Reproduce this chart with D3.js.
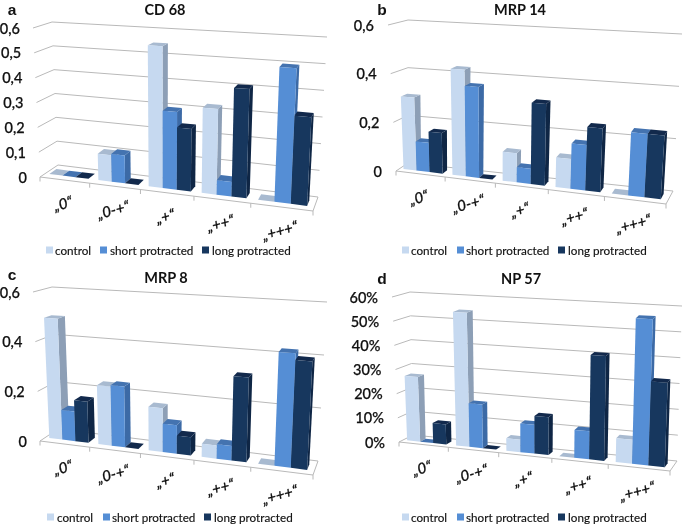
<!DOCTYPE html>
<html><head><meta charset="utf-8">
<script src="https://cdn.jsdelivr.net/npm/d3@7"></script>
<style>html,body{margin:0;padding:0;background:#fff}svg{display:block;filter:blur(0.35px)}
text{font-family:Lato,"Open Sans",sans-serif;fill:#111}</style></head><body>
<svg id="c" width="685" height="528"></svg>
<script>
const categories = ["\u201E0\u201C","\u201E0-+\u201C","\u201E+\u201C","\u201E++\u201C","\u201E+++\u201C"];
const seriesNames = ["control","short protracted","long protracted"];
const cd68Control = [0,0.105,0.55,0.325,0];
const cd68Short   = [0,0.11,0.30,0.055,0.50];
const cd68Long    = [0,0,0.24,0.41,0.325];
const mrp14Control = [0.30,0.43,0.115,0.115,0];
const mrp14Short   = [0.12,0.365,0.06,0.175,0.24];
const mrp14Long    = [0.165,0,0.32,0.245,0.24];
const mrp8Control = [0.49,0.235,0.17,0.05,0];
const mrp8Short   = [0.12,0.24,0.11,0.055,0.425];
const mrp8Long    = [0.165,0,0.07,0.32,0.40];
const np57Control = [26.7,54.6,5,0,9.3];
const np57Short   = [0,17.7,11.5,11,56.5];
const np57Long    = [8.2,0,15,41,32.5];
const ticksA = [0,0.1,0.2,0.3,0.4,0.5,0.6];
const ticksB = [0,0.2,0.4,0.6];
const ticksD = [0,10,20,30,40,50,60];
const frontColors = ["#c6d9f0","#558ed5","#17375e"];
const sideColors  = ["#8d9fb6","#3c6aa6","#0f2645"];
const topColors   = ["#a8bad0","#4473b0","#12294c"];

const svg = d3.select("#c");
const line = d3.line();
const slotWarp = d3.scaleLinear().domain([0,1,2,3,4,5]).range([0,0.182,0.368,0.564,0.772,1]);
const vFront = 0.3, vBack = 0.7, clusterStart = 0.08, clusterW = 0.8;

function panel(o){
  const g = svg.append("g");
  const yS = d3.scaleLinear().domain(o.dom).range([0,1]);
  const lerp=(a,b,t)=>[a[0]+(b[0]-a[0])*t,a[1]+(b[1]-a[1])*t];
  const P=(s,v,h)=>{
    const u=slotWarp(s), t=yS(h);
    const bot=lerp(lerp(o.FL,o.FR,u),lerp(o.BL,o.BR,u),v);
    const top=lerp(lerp(o.FLT,o.FRT,u),lerp(o.BLT,o.BRT,u),v);
    return lerp(bot,top,t);
  };
  const grid="#b9b9b9";
  const path=(pts,fill,stroke,w)=>g.append("path").attr("d",line(pts)+(fill!=="none"?"Z":""))
     .attr("fill",fill).attr("stroke",stroke||"none").attr("stroke-width",w||0);
  o.ticks.forEach(t=>{
    path([P(0,0,t),P(0,1,t),P(5,1,t)],"none",grid,1);
    const p=P(0,0,t);
    g.append("text").attr("x",p[0]-o.tickGap).attr("y",p[1]).attr("text-anchor","end")
      .attr("dominant-baseline","central").attr("font-size",14.5).attr("font-weight",500)
      .attr("stroke","#111").attr("stroke-width",0.25)
      .text(o.fmt(t));
  });
  path([P(0,0,0),P(5,0,0),P(5,1,0)],"none",grid,1);
  d3.range(6).forEach(s=>{
    const p=P(s,0,0); path([p,[p[0],p[1]+4.5]],"none",grid,1);
  });
  categories.forEach((c,k)=>{
    const p=P(k+0.5,0,0);
    g.append("text").attr("transform",`translate(${p[0]-2},${p[1]+23}) rotate(-15)`)
      .attr("text-anchor","middle").attr("dominant-baseline","central")
      .attr("font-size",15).attr("font-weight",500).attr("font-style","italic")
      .attr("stroke","#111").attr("stroke-width",0.25).text(c);
  });
  categories.forEach((c,k)=>{
    o.series.forEach((vals,j)=>{
      const s0=k+clusterStart+j*clusterW/3, s1=s0+clusterW/3, h=vals[k];
      if(h>0){
        path([P(s1,vFront,0),P(s1,vBack,0),P(s1,vBack,h),P(s1,vFront,h)],sideColors[j]);
      }
      path([P(s0,vFront,h),P(s1,vFront,h),P(s1,vBack,h),P(s0,vBack,h)],topColors[j]);
      if(h>0){
        path([P(s0,vFront,0),P(s1,vFront,0),P(s1,vFront,h),P(s0,vFront,h)],frontColors[j]);
      }
    });
  });
  seriesNames.forEach((n,i)=>{
    g.append("rect").attr("x",o.lg[i][0]).attr("y",o.lgY-3.5).attr("width",7).attr("height",7).attr("fill",frontColors[i]);
    g.append("text").attr("x",o.lg[i][1]).attr("y",o.lgY).attr("dominant-baseline","central")
      .attr("font-size",11.7).attr("stroke","#111").attr("stroke-width",0.15).text(n);
  });
  g.append("text").attr("x",o.title[0]).attr("y",o.title[1]).attr("text-anchor","middle")
    .attr("dominant-baseline","central").attr("font-size",14.5).attr("font-weight",700).text(o.name);
  g.append("text").attr("x",o.letter[0]).attr("y",o.letter[1]).attr("text-anchor","middle")
    .attr("dominant-baseline","central").attr("font-size",15.5).attr("font-weight",700)
    .style("font-family","'Liberation Sans',Arial,sans-serif").text(o.let);
}
const comma=d3.format(".1f"), fmtC=t=>t===0?"0":comma(t).replace(".",",");
const fmtP=t=>t+"%";

panel({name:"CD 68",let:"a",dom:[0,0.6],ticks:ticksA,fmt:fmtC,tickGap:13,
  series:[cd68Control,cd68Short,cd68Long],
  FL:[40,177],BL:[58,165],FR:[313,211],BR:[318,197],FLT:[33,28],BLT:[52,22],FRT:[321,45],BRT:[327,37],
  lg:[[46,55],[100,110],[202,212]],lgY:250,title:[165,9],letter:[12,9]});
panel({name:"MRP 14",let:"b",dom:[0,0.6],ticks:ticksB,fmt:fmtC,tickGap:14,
  series:[mrp14Control,mrp14Short,mrp14Long],
  FL:[396,171],BL:[408,163],FR:[666,204],BR:[673,191],FLT:[388,25],BLT:[408,20],FRT:[676,43],BRT:[682,34],
  lg:[[402,411],[457,466],[558,568]],lgY:250,title:[520,9],letter:[382,9]});
panel({name:"MRP 8",let:"c",dom:[0,0.6],ticks:ticksB,fmt:fmtC,tickGap:13,
  series:[mrp8Control,mrp8Short,mrp8Long],
  FL:[40,441],BL:[58,429],FR:[313,475],BR:[318,461],FLT:[33,292],BLT:[52,287],FRT:[321,310],BRT:[327,302],
  lg:[[47,57],[103,112],[204,214]],lgY:517,title:[166,277],letter:[12,274]});
panel({name:"NP 57",let:"d",dom:[0,60],ticks:ticksD,fmt:fmtP,tickGap:14,
  series:[np57Control,np57Short,np57Long],
  FL:[399,442],BL:[413,435],FR:[670,471],BR:[677,461],FLT:[392,297],BLT:[410,292],FRT:[676,314],BRT:[682,306],
  lg:[[402,411],[457,466],[558,568]],lgY:517,title:[521,278],letter:[382,278]});
</script></body></html>
